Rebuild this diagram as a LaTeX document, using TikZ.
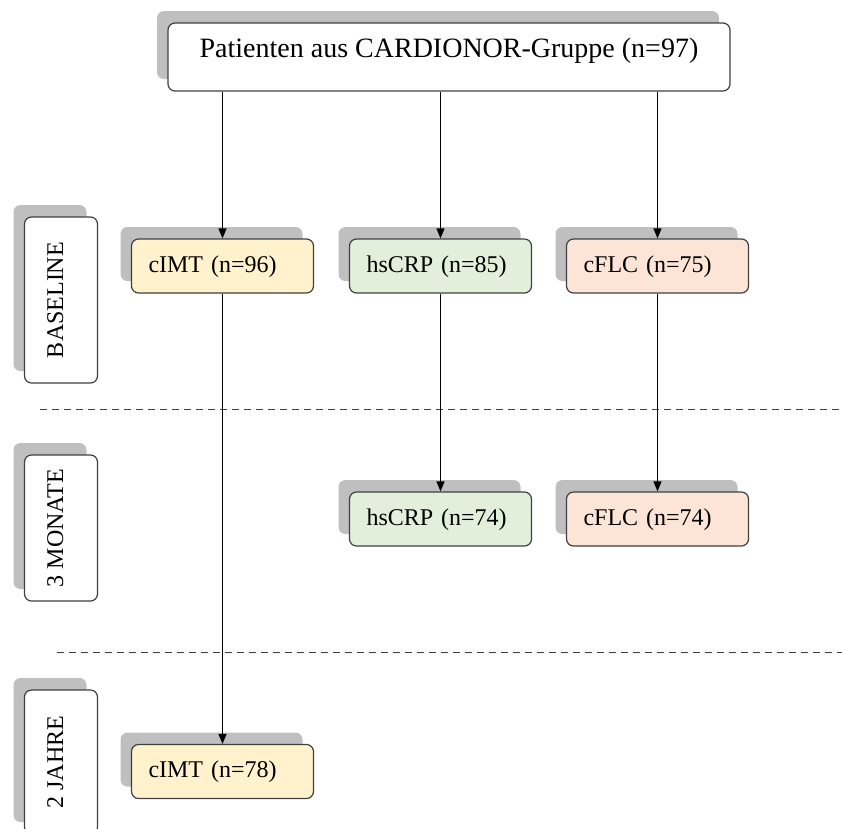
\documentclass[tikz,border=0pt]{standalone}
\usepackage{fontspec}
\setmainfont{Liberation Serif}
\usetikzlibrary{arrows.meta,shadows}
\usepackage{xcolor}
\definecolor{boxline}{RGB}{64,64,64}
\definecolor{shadowgray}{RGB}{191,191,191}
\definecolor{imtyellow}{RGB}{255,242,204}
\definecolor{crpgreen}{RGB}{226,239,218}
\definecolor{flcpeach}{RGB}{252,228,214}
\newcommand{\phaselabel}[1]{\rotatebox{90}{\raisebox{0pt}[16pt][12pt]{#1}}}

\begin{document}
\begin{tikzpicture}[x=1pt,y=-1pt,>={Triangle[length=10pt,width=8pt]},line width=1.2pt]
  \tikzstyle{box}=[draw=boxline,rounded corners=7pt,general shadow={fill=shadowgray,shadow xshift=-11pt,shadow yshift=12pt}]
  \tikzstyle{measure}=[box,minimum width=182pt,minimum height=54pt,inner xsep=17pt,text width=148pt,align=left,font=\fontsize{24}{28}\selectfont,text height=17pt,text depth=5pt]
  \tikzstyle{phase}=[box,fill=white,minimum width=73pt,inner sep=0pt,font=\fontsize{24}{28}\selectfont]
  \tikzstyle{flow}=[->,draw=black,line width=1.3pt]
  \tikzstyle{divider}=[draw=boxline,line width=1pt,dash pattern=on 7pt off 5pt]

  \path[use as bounding box,clip] (0,0) rectangle (842,828);

  % phases
  \node[phase,minimum height=166pt] (base)   at (61,300) {\phaselabel{BASELINE}};
  \node[phase,minimum height=146pt] (monate) at (61,528) {\phaselabel{3 MONATE}};
  \node[phase,minimum height=144pt] (jahre)  at (61,762) {\phaselabel{2 JAHRE}};

  % cohort and measurements
  \node[box,fill=white,minimum width=562pt,minimum height=68pt,font=\fontsize{28}{32}\selectfont,text height=20pt,text depth=20pt] (top) at (449,57) {Patienten aus CARDIONOR-Gruppe (n=97)};

  \node[measure,fill=imtyellow] (imtA) at (222.5,266) {cIMT (n=96)};
  \node[measure,fill=crpgreen]  (crpA) at (440.5,266) {hsCRP (n=85)};
  \node[measure,fill=flcpeach]  (flcA) at (657.5,266) {cFLC (n=75)};
  \node[measure,fill=crpgreen]  (crpB) at (440.5,519) {hsCRP (n=74)};
  \node[measure,fill=flcpeach]  (flcB) at (657.5,519) {cFLC (n=74)};
  \node[measure,fill=imtyellow] (imtB) at (222.5,771.5) {cIMT (n=78)};

  % dividers
  \coordinate (d1l) at (40,409);
  \coordinate (d1r) at (842,409);
  \coordinate (d2l) at (57,652);
  \coordinate (d2r) at (842,652);
  \path[divider] (d1l) -- (d1r);
  \path[divider] (d2l) -- (d2r);

  % arrows
  \path[flow] (imtA.north |- top.south) -- (imtA.north);
  \path[flow] (crpA.north |- top.south) -- (crpA.north);
  \path[flow] (flcA.north |- top.south) -- (flcA.north);
  \path[flow] (imtA.south) -- (imtB.north);
  \path[flow] (crpA.south) -- (crpB.north);
  \path[flow] (flcA.south) -- (flcB.north);
\end{tikzpicture}
\end{document}
